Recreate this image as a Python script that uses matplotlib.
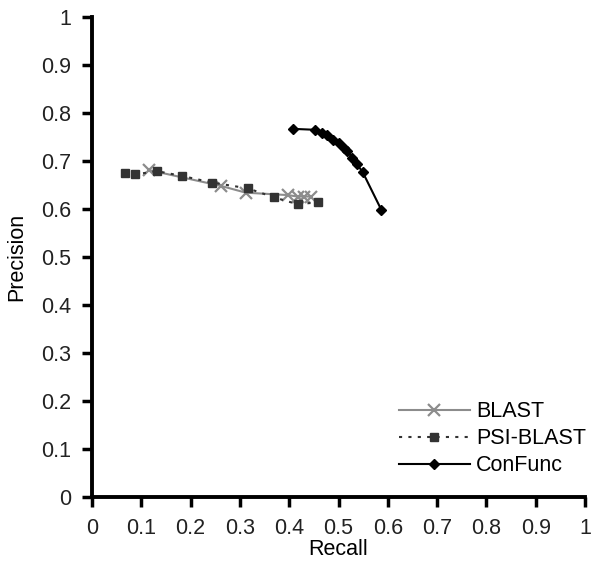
import matplotlib
matplotlib.use("Agg")
import matplotlib.pyplot as plt

plt.rcParams['font.family'] = ['Liberation Sans', 'DejaVu Sans']

blast_recall = [0.116, 0.262, 0.312, 0.397, 0.417, 0.431, 0.444]
blast_precision = [0.681, 0.648, 0.634, 0.629, 0.626, 0.626, 0.626]

psi_recall = [0.066, 0.088, 0.131, 0.182, 0.244, 0.316, 0.370, 0.417, 0.459]
psi_precision = [0.676, 0.672, 0.679, 0.669, 0.655, 0.643, 0.624, 0.610, 0.614]

con_recall = [0.407, 0.453, 0.467, 0.476, 0.488, 0.502, 0.512, 0.518, 0.528, 0.537, 0.549, 0.587]
con_precision = [0.767, 0.765, 0.758, 0.754, 0.744, 0.737, 0.727, 0.721, 0.706, 0.694, 0.677, 0.598]

ticks = [0, 0.1, 0.2, 0.3, 0.4, 0.5, 0.6, 0.7, 0.8, 0.9, 1]
tick_labels = ['0', '0.1', '0.2', '0.3', '0.4', '0.5', '0.6', '0.7', '0.8', '0.9', '1']

fig = plt.figure(figsize=(6.03, 5.67), dpi=100)
ax = fig.add_axes([92/603, 1 - 497/567, (585-92)/603, (497-17)/567])

ax.plot(blast_recall, blast_precision, color='#8c8c8c', lw=1.5, marker='x',
        ms=8, mew=1.6, label='BLAST')
ax.plot(psi_recall, psi_precision, color='#333333', lw=1.5, ls=(0, (1.5, 3)),
        marker='s', ms=5.5, label='PSI-BLAST')
ax.plot(con_recall, con_precision, color='black', lw=1.5, marker='D',
        ms=5.5, label='ConFunc')

ax.set_xlim(0, 1)
ax.set_ylim(0, 1)
ax.set_xticks(ticks)
ax.set_xticklabels(tick_labels)
ax.set_yticks(ticks)
ax.set_yticklabels(tick_labels)
ax.spines['top'].set_visible(False)
ax.spines['right'].set_visible(False)
for s in ('left', 'bottom'):
    ax.spines[s].set_linewidth(2.8)
ax.tick_params(direction='out', length=7, width=2.5, labelsize=15.5, pad=8)
ax.set_xlabel('Recall', fontsize=15.5, labelpad=0)
ax.set_ylabel('Precision', fontsize=15.5, labelpad=10)
for lab in ax.get_xticklabels() + ax.get_yticklabels():
    lab.set_color('#222222')

leg = ax.legend(loc='lower right', bbox_to_anchor=(1.02, 0.025), frameon=False,
                fontsize=15.5, handlelength=3.3, handletextpad=0.3,
                labelspacing=0.28, borderaxespad=0.0)

fig.savefig('out.png', dpi=100)
